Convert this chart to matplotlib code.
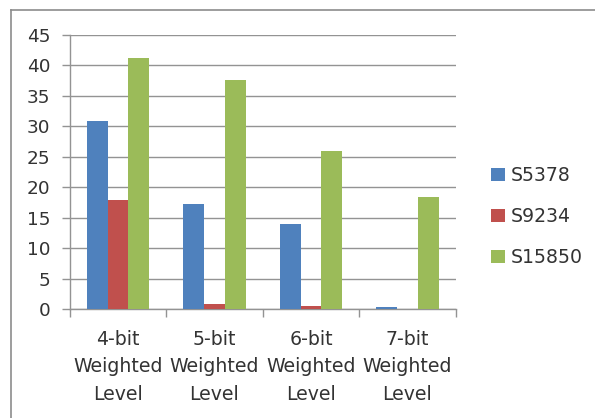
import matplotlib
matplotlib.use("Agg")
import matplotlib.pyplot as plt
from matplotlib.lines import Line2D
import numpy as np

categories = ["4-bit\nWeighted\nLevel", "5-bit\nWeighted\nLevel",
              "6-bit\nWeighted\nLevel", "7-bit\nWeighted\nLevel"]
series_names = ["S5378", "S9234", "S15850"]
s5378 = [30.9, 17.3, 14.0, 0.4]
s9234 = [18.0, 0.8, 0.5, 0.0]
s15850 = [41.3, 37.6, 25.9, 18.4]
colors = ["#4F81BD", "#C0504D", "#9BBB59"]
yticks = [0, 5, 10, 15, 20, 25, 30, 35, 40, 45]

plt.rcParams['font.family'] = ['DejaVu Sans']

W, H = 595, 418
fig = plt.figure(figsize=(W / 100, H / 100), dpi=100)
fig.patch.set_facecolor("white")

# outer chart border (left and top visible)
fig.add_artist(Line2D([11 / W, 11 / W], [0, 1 - 9.5 / H], color="#8c8c8c", lw=1.2))
fig.add_artist(Line2D([11 / W, 1], [1 - 9.5 / H, 1 - 9.5 / H], color="#8c8c8c", lw=1.2))

left, right, top, bottom = 69.7, 455.7, 35.0, 309.3
ax = fig.add_axes([left / W, 1 - bottom / H, (right - left) / W, (bottom - top) / H])

x = np.arange(len(categories))
w = 0.215
data = [s5378, s9234, s15850]
for i, (vals, c, name) in enumerate(zip(data, colors, series_names)):
    ax.bar(x + (i - 1) * w, vals, width=w, color=c, label=name, zorder=3)

txt = "#333333"
gridc = "#939393"
ax.set_xlim(-0.5, 3.5)
ax.set_ylim(0, 45)
ax.set_yticks(yticks)
ax.set_yticklabels([str(v) for v in yticks], fontsize=13.3, color=txt)
ax.yaxis.grid(True, color=gridc, lw=1.0, zorder=0)
ax.set_axisbelow(True)

ax.set_xticks(x)
ax.set_xticklabels(categories, fontsize=13.6, color=txt, linespacing=1.55)
ax.set_xticks(np.arange(-0.5, 4.0, 1.0), minor=True)
ax.tick_params(axis="x", which="major", length=0, pad=15)
ax.tick_params(axis="x", which="minor", length=5.5, color=gridc, width=1.0)
ax.tick_params(axis="y", length=6, color=gridc, width=1.0, pad=8)

for s in ["top", "right"]:
    ax.spines[s].set_visible(False)
for s in ["left", "bottom"]:
    ax.spines[s].set_color(gridc)
    ax.spines[s].set_linewidth(1.0)

leg = fig.legend(loc="center left", bbox_to_anchor=(491.5 / W, 1 - 216.7 / H),
                 frameon=False, fontsize=13.6, handlelength=0.7, handleheight=0.7,
                 handletextpad=0.3, labelspacing=1.18, borderpad=0, borderaxespad=0)
for t in leg.get_texts():
    t.set_color(txt)

fig.savefig("out.png", dpi=100, facecolor="white")
